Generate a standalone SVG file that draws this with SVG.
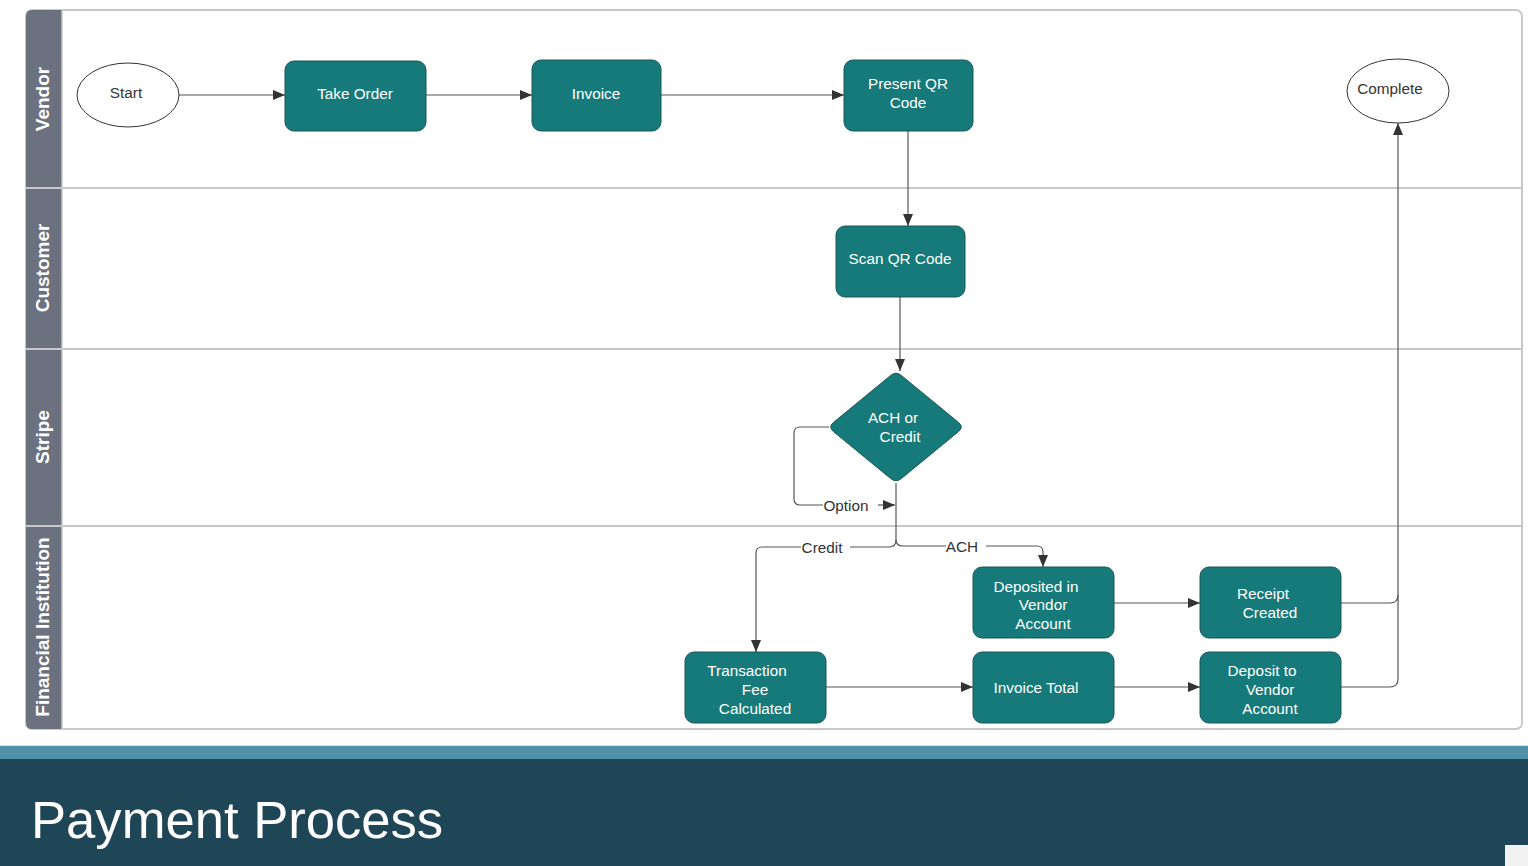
<svg xmlns="http://www.w3.org/2000/svg" width="1528" height="866" viewBox="0 0 1528 866">
<defs>
<marker id="arr" viewBox="0 0 12 10" refX="12" refY="5" markerWidth="12" markerHeight="10" markerUnits="userSpaceOnUse" orient="auto">
<path d="M0,0 L12,5 L0,10 Z" fill="#333"/>
</marker>
<style>
.node{fill:#177a7a;stroke:#1c5656;stroke-width:1}
.nt{font-family:"Liberation Sans",Arial,sans-serif;font-size:15.3px;fill:#ffffff;text-anchor:middle}
.ot{font-family:"Liberation Sans",Arial,sans-serif;font-size:15.3px;fill:#333333;text-anchor:middle}
.lane{font-family:"Liberation Sans",Arial,sans-serif;font-size:19px;font-weight:bold;fill:#ffffff;text-anchor:middle}
.el{font-family:"Liberation Sans",Arial,sans-serif;font-size:15.3px;fill:#333333;text-anchor:middle}
.c{fill:none;stroke:#555555;stroke-width:1.2}
.div{stroke:#c8c8c8;stroke-width:2}
</style>
</defs>
<rect width="1528" height="866" fill="#ffffff"/>
<g id="pool">
<rect x="26" y="10" width="1496" height="719" rx="6" fill="#ffffff" stroke="#c8c8c8" stroke-width="2"/>
<path d="M32,10 H62 V729 H32 Q26,729 26,723 V16 Q26,10 32,10 Z" fill="#6b717e"/>
<line class="div" x1="26" y1="188" x2="1522" y2="188"/>
<line class="div" x1="26" y1="349" x2="1522" y2="349"/>
<line class="div" x1="26" y1="526" x2="1522" y2="526"/>
<line x1="62" y1="10" x2="62" y2="729" stroke="#c8c8c8" stroke-width="1.5"/>
<text class="lane" transform="translate(49,99) rotate(-90)">Vendor</text>
<text class="lane" transform="translate(49,268) rotate(-90)">Customer</text>
<text class="lane" transform="translate(49,437) rotate(-90)">Stripe</text>
<text class="lane" transform="translate(49,627) rotate(-90)">Financial Institution</text>
</g>
<g id="connectors">
<path class="c" d="M179,95 H285" marker-end="url(#arr)"/>
<path class="c" d="M426,95 H532" marker-end="url(#arr)"/>
<path class="c" d="M661,95 H844" marker-end="url(#arr)"/>
<path class="c" d="M908,131 V226" marker-end="url(#arr)"/>
<path class="c" d="M900,297 V371" marker-end="url(#arr)"/>
<path class="c" d="M829,427 H800 Q794,427 794,433 V499 Q794,505 800,505 H823"/>
<path class="c" d="M878,505 H895" marker-end="url(#arr)"/>
<path class="c" d="M896,483 V540"/>
<path class="c" d="M896,540 Q896,547 889,547 H850"/>
<path class="c" d="M801,547 H762 Q756,547 756,553 V652" marker-end="url(#arr)"/>
<path class="c" d="M896,540 Q896,546 903,546 H946"/>
<path class="c" d="M986,546 H1037 Q1043,546 1043,552 V567" marker-end="url(#arr)"/>
<path class="c" d="M1114,603 H1200" marker-end="url(#arr)"/>
<path class="c" d="M826,687 H973" marker-end="url(#arr)"/>
<path class="c" d="M1114,687 H1200" marker-end="url(#arr)"/>
<path class="c" d="M1341,603 H1390 Q1398,603 1398,595"/>
<path class="c" d="M1341,687 H1390 Q1398,687 1398,679 V123" marker-end="url(#arr)"/>
<text class="el" x="846" y="511">Option</text>
<text class="el" x="822" y="553">Credit</text>
<text class="el" x="962" y="552">ACH</text>
</g>
<g id="start"><ellipse cx="128" cy="95" rx="51" ry="32" fill="#ffffff" stroke="#333" stroke-width="1"/><text class="ot" x="126" y="98">Start</text></g>
<g id="take-order"><rect class="node" x="285" y="61" width="141" height="70" rx="9"/><text class="nt" x="355" y="99">Take Order</text></g>
<g id="invoice"><rect class="node" x="532" y="60" width="129" height="71" rx="9"/><text class="nt" x="596" y="99">Invoice</text></g>
<g id="present-qr"><rect class="node" x="844" y="60" width="129" height="71" rx="9"/><text class="nt" x="908" y="89">Present QR</text><text class="nt" x="908" y="108">Code</text></g>
<g id="complete"><ellipse cx="1398" cy="91" rx="51" ry="32" fill="#ffffff" stroke="#333" stroke-width="1"/><text class="ot" x="1390" y="94">Complete</text></g>
<g id="scan-qr"><rect class="node" x="836" y="226" width="129" height="71" rx="9"/><text class="nt" x="900" y="264">Scan QR Code</text></g>
<g id="ach-or-credit"><path class="node" d="M890.6,375.5 Q896,371 901.4,375.5 L958.6,422.5 Q964,427 958.6,431.5 L901.4,478.5 Q896,483 890.6,478.5 L833.4,431.5 Q828,427 833.4,422.5 Z"/><text class="nt" x="893" y="423">ACH or</text><text class="nt" x="900" y="442">Credit</text></g>
<g id="deposited"><rect class="node" x="973" y="567" width="141" height="71" rx="9"/><text class="nt" x="1036" y="592">Deposited in</text><text class="nt" x="1043" y="610">Vendor</text><text class="nt" x="1043" y="629">Account</text></g>
<g id="receipt"><rect class="node" x="1200" y="567" width="141" height="71" rx="9"/><text class="nt" x="1263" y="599">Receipt</text><text class="nt" x="1270" y="618">Created</text></g>
<g id="transaction-fee"><rect class="node" x="685" y="652" width="141" height="71" rx="9"/><text class="nt" x="747" y="676">Transaction</text><text class="nt" x="755" y="695">Fee</text><text class="nt" x="755" y="714">Calculated</text></g>
<g id="invoice-total"><rect class="node" x="973" y="652" width="141" height="71" rx="9"/><text class="nt" x="1036" y="693">Invoice Total</text></g>
<g id="deposit-vendor"><rect class="node" x="1200" y="652" width="141" height="71" rx="9"/><text class="nt" x="1262" y="676">Deposit to</text><text class="nt" x="1270" y="695">Vendor</text><text class="nt" x="1270" y="714">Account</text></g>
<g id="footer">
<rect x="0" y="745" width="1528" height="1" fill="#dddddd"/>
<rect x="0" y="746" width="1528" height="13" fill="#5091a9"/>
<rect x="0" y="759" width="1528" height="107" fill="#1f4656"/>
<rect x="1505" y="845" width="23" height="21" fill="#f2f2f2"/>
<text x="31" y="838" font-family="'Liberation Sans',Arial,sans-serif" font-size="52.6" fill="#ffffff">Payment Process</text>
</g>
</svg>
